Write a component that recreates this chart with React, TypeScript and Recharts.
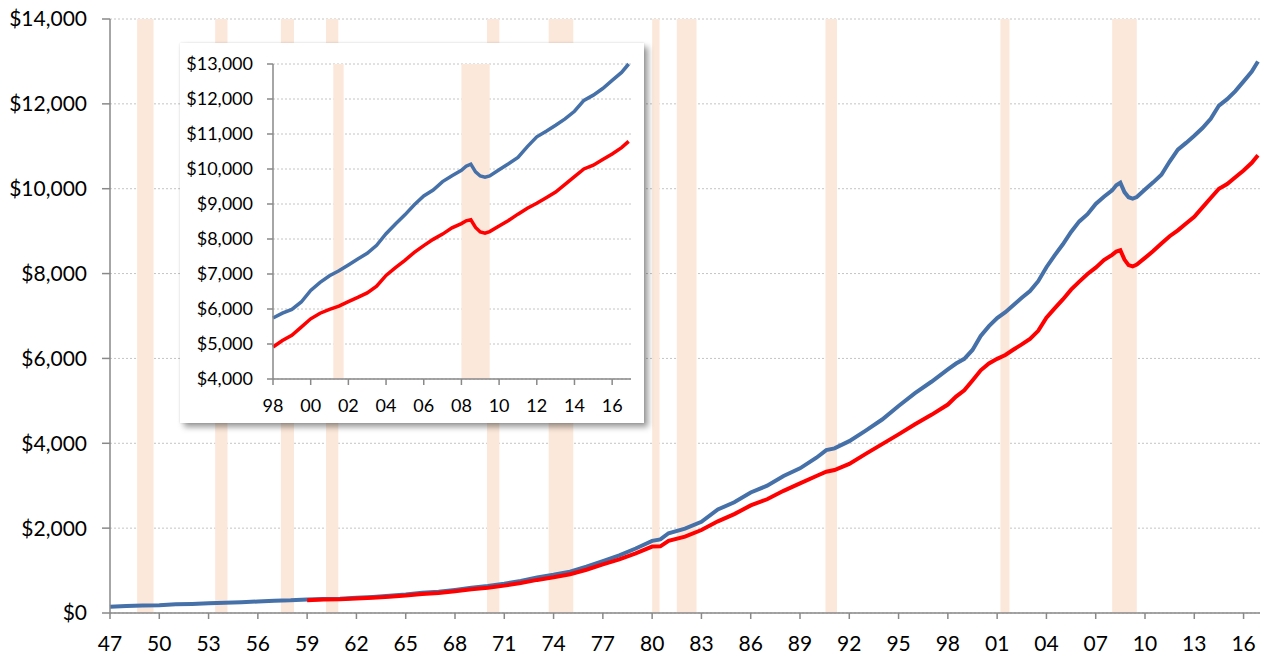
import {
  ComposedChart,
  Line,
  XAxis,
  YAxis,
  CartesianGrid,
  ReferenceArea,
} from 'recharts';

// quarter positions as decimal years
const dates = [
  1947, 1948, 1949, 1950, 1951, 1952, 1953, 1954, 1955, 1956, 1957, 1958,
  1959, 1960, 1961, 1962, 1963, 1964, 1965, 1966, 1967, 1968, 1969, 1970,
  1971, 1972, 1973, 1974, 1975, 1976, 1977, 1978, 1979, 1980, 1980.5, 1981,
  1982, 1983, 1984, 1985, 1986, 1987, 1988, 1989, 1990, 1990.6, 1991.1, 1992,
  1993, 1994, 1995, 1996, 1997, 1998, 1998.5, 1999, 1999.5, 2000, 2000.5,
  2001, 2001.5, 2002, 2002.5, 2003, 2003.5, 2004, 2004.5, 2005, 2005.5, 2006,
  2006.5, 2007, 2007.5, 2008, 2008.25, 2008.5, 2008.75, 2009, 2009.25, 2009.5,
  2010, 2010.5, 2011, 2011.5, 2012, 2012.5, 2013, 2013.5, 2014, 2014.5, 2015,
  2015.5, 2016, 2016.5, 2016.875,
];

// billions of dollars
const blueSeries = [
  150, 165, 175, 185, 205, 215, 232, 240, 255, 272, 288, 298,
  318, 330, 336, 358, 378, 405, 435, 475, 500, 545, 595, 635,
  690, 755, 835, 900, 975, 1090, 1225, 1360, 1520, 1700, 1735, 1880,
  1990, 2150, 2440, 2610, 2840, 3000, 3230, 3410, 3660, 3840, 3880, 4050,
  4300, 4560, 4880, 5180, 5450, 5741, 5880, 5990, 6200, 6530, 6760,
  6950, 7090, 7260, 7430, 7590, 7820, 8150, 8430, 8690, 8980, 9230,
  9400, 9640, 9810, 9960, 10080, 10140, 9920, 9800, 9766, 9803,
  9980, 10150, 10330, 10640, 10920, 11080, 11250, 11430, 11650, 11960, 12110,
  12300, 12530, 12760, 13000,
];

const redSeries = [
  null, null, null, null, null, null, null, null, null, null, null, null,
  303, 316, 322, 342, 360, 385, 412, 448, 472, 514, 560, 595,
  645, 705, 780, 842, 915, 1020, 1147, 1265, 1405, 1565, 1570, 1700,
  1800, 1955, 2160, 2330, 2535, 2680, 2880, 3056, 3230, 3330, 3370, 3515,
  3750, 3980, 4210, 4450, 4670, 4913, 5100, 5250, 5480, 5720, 5880,
  5990, 6080, 6210, 6330, 6460, 6650, 6960, 7180, 7390, 7620, 7810,
  7990, 8140, 8320, 8440, 8520, 8550, 8330, 8200, 8168, 8213,
  8370, 8530, 8710, 8880, 9020, 9180, 9340, 9560, 9780, 10000, 10110,
  10270, 10430, 10610, 10790,
];

// recession shading [start, end]
const recessions = [
  [1948.65, 1949.65], [1953.4, 1954.15], [1957.4, 1958.2], [1960.15, 1960.9],
  [1969.95, 1970.7], [1973.7, 1975.2], [1980.0, 1980.45], [1981.5, 1982.7],
  [1990.55, 1991.25], [2001.2, 2001.75], [2008.0, 2009.5],
];

const mainXTicks = [
  1947, 1950, 1953, 1956, 1959, 1962, 1965, 1968, 1971, 1974, 1977, 1980,
  1983, 1986, 1989, 1992, 1995, 1998, 2001, 2004, 2007, 2010, 2013, 2016,
];
const mainYTicks = [0, 2000, 4000, 6000, 8000, 10000, 12000, 14000];
const insetXTicks = [1998, 2000, 2002, 2004, 2006, 2008, 2010, 2012, 2014, 2016];
const insetYTicks = [4000, 5000, 6000, 7000, 8000, 9000, 10000, 11000, 12000, 13000];

const data = dates.map((d, i) => ({ date: d, blue: blueSeries[i], red: redSeries[i] }));
const insetData = data.filter((d) => d.date >= 1998);

const BLUE = '#4570a8';
const RED = '#ff0000';
const BAND = '#fce8da';
const AXIS = '#898989';
const FONT = 'Lato, "Open Sans", sans-serif';

const yearLabel = (v: number) => String(v % 100).padStart(2, '0');
const dollars = (v: number) => `$${v.toLocaleString('en-US')}`;

export default function App() {
  return (
    <div style={{ position: 'absolute', left: 0, top: 0, width: 1274, height: 656, background: '#fff', fontFamily: FONT }}>
      <ComposedChart width={1274} height={656} data={data} margin={{ top: 19, right: 14, left: 0, bottom: 0 }}>
        <CartesianGrid vertical={false} stroke="#c4c4c4" strokeDasharray="2 2" />
        {recessions.map(([a, b], i) => (
          <ReferenceArea key={`r-${i}`} x1={a} x2={b} y1={0} y2={14000} fill={BAND} fillOpacity={1} stroke="none" />
        ))}
        <XAxis
          dataKey="date"
          type="number"
          domain={[1947, 2017]}
          ticks={mainXTicks}
          tickFormatter={yearLabel}
          height={43}
          tickSize={6}
          tickMargin={17}
          stroke={AXIS}
          strokeWidth={1.5}
          tick={{ fill: '#000', fontSize: 21, fontFamily: FONT }}
        />
        <YAxis
          type="number"
          domain={[0, 14000]}
          ticks={mainYTicks}
          tickFormatter={dollars}
          width={110}
          tickSize={8}
          tickMargin={15}
          stroke={AXIS}
          strokeWidth={1.5}
          tick={{ fill: '#000', fontSize: 21, fontFamily: FONT }}
        />
        <Line dataKey="blue" stroke={BLUE} strokeWidth={4} dot={false} isAnimationActive={false} />
        <Line dataKey="red" stroke={RED} strokeWidth={4} dot={false} isAnimationActive={false} />
      </ComposedChart>

      <div
        style={{
          position: 'absolute',
          left: 180,
          top: 43,
          width: 464,
          height: 380,
          background: '#fff',
          boxShadow: '4px 4px 6px rgba(0,0,0,0.4), 0 0 2px rgba(0,0,0,0.12)',
        }}
      >
        <ComposedChart width={464} height={380} data={insetData} margin={{ top: 21, right: 13, left: 0, bottom: 0 }}>
          <CartesianGrid vertical={false} stroke="#c4c4c4" strokeDasharray="2 2" />
          {recessions
            .filter(([a]) => a >= 1998)
            .map(([a, b], i) => (
              <ReferenceArea key={`ir-${i}`} x1={a} x2={b} y1={4000} y2={13000} fill={BAND} fillOpacity={1} stroke="none" />
            ))}
          <XAxis
            dataKey="date"
            type="number"
            domain={[1998, 2017]}
            ticks={insetXTicks}
            tickFormatter={yearLabel}
            height={44}
            tickSize={6}
            tickMargin={14}
            stroke={AXIS}
            strokeWidth={1.5}
            tick={{ fill: '#000', fontSize: 18, fontFamily: FONT }}
          />
          <YAxis
            type="number"
            domain={[4000, 13000]}
            ticks={insetYTicks}
            tickFormatter={dollars}
            width={93}
            tickSize={6}
            tickMargin={14}
            stroke={AXIS}
            strokeWidth={1.5}
            tick={{ fill: '#000', fontSize: 18, fontFamily: FONT }}
          />
          <Line dataKey="blue" stroke={BLUE} strokeWidth={3.5} dot={false} isAnimationActive={false} />
          <Line dataKey="red" stroke={RED} strokeWidth={3.5} dot={false} isAnimationActive={false} />
        </ComposedChart>
      </div>
    </div>
  );
}
